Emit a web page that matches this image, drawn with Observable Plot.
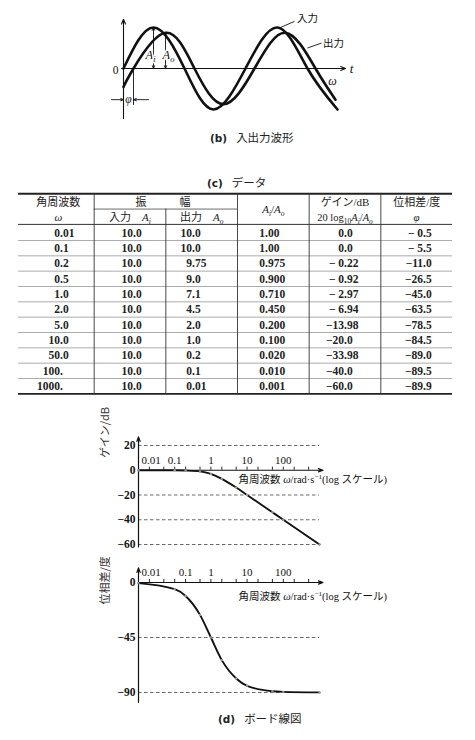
<!DOCTYPE html>
<html><head><meta charset="utf-8">
<script src="https://cdn.jsdelivr.net/npm/d3@7"></script>
<script src="https://cdn.jsdelivr.net/npm/@observablehq/plot@0.6"></script>
<style>
body{margin:0;background:#fff;}
#page{position:relative;width:475px;height:740px;overflow:hidden;background:#fff;}
#page svg{position:absolute;left:0;}
.cap{position:absolute;font-family:'Noto Sans CJK JP',sans-serif;font-size:11.5px;color:#222;white-space:nowrap;line-height:12px;}
.cap b{font-family:'DejaVu Sans',sans-serif;font-weight:bold;font-size:10.5px;margin-right:9px;}
</style></head><body><div id="page"></div>
<script>
// ================= DATA =================
// (c) data table
const omega = [0.01, 0.1, 0.2, 0.5, 1, 2, 5, 10, 50, 100, 1000];
const omegaLabels = ["0.01","0.1","0.2","0.5","1.0","2.0","5.0","10.0","50.0","100.","1000."];
const inputAmpLabels = ["10.0","10.0","10.0","10.0","10.0","10.0","10.0","10.0","10.0","10.0","10.0"];
const outputAmpLabels = ["10.0","10.0","9.75","9.0","7.1","4.5","2.0","1.0","0.2","0.1","0.01"];
const ratioLabels = ["1.00","1.00","0.975","0.900","0.710","0.450","0.200","0.100","0.020","0.010","0.001"];
const gainDb = [0, 0, -0.22, -0.92, -2.97, -6.94, -13.98, -20.0, -33.98, -40.0, -60.0];
const gainLabels = ["0.0","0.0","− 0.22","− 0.92","− 2.97","− 6.94","−13.98","−20.0","−33.98","−40.0","−60.0"];
const phaseDeg = [-0.5, -5.5, -11.0, -26.5, -45.0, -63.5, -78.5, -84.5, -89.0, -89.5, -89.9];
const phaseLabels = ["− 0.5","− 5.5","−11.0","−26.5","−45.0","−63.5","−78.5","−84.5","−89.0","−89.5","−89.9"];
const headerTexts = ["角周波数","*ω*","振　　　幅","入力　*A*_{i}","出力　*A*_{o}","*A*_{i}/*A*_{o}","ゲイン/dB","20 log_{10}*A*_{i}/*A*_{o}","位相差/度","*φ*"];

// (d) Bode plot axes
const gainTicks = [20, 0, -20, -40, -60];
const gainTickLabels = ["20","0","−20","−40","−60"];
const gainGrid = [20, -20, -40, -60];
const phaseTicks = [0, -45, -90];
const phaseTickLabels = ["0","−45","−90"];
const phaseGrid = [-45, -90];
const freqTicks = [0.01, 0.1, 1, 10, 100];
const freqTickLabels = ["0.01","0.1","1","10","100"];
const freqMinorTicks = [0.01,0.02,0.05,0.1,0.2,0.5,1,2,5,10,20,50,100,200,500];
const freqAxisTitle = "角周波数 *ω*/rad·s^{−1}(log スケール)";
const gainAxisTitle = "ゲイン/dB";
const phaseAxisTitle = "位相差/度";

// (b) waveform sketch (zero crossings and extremes)
const inputWaveT = [0, 30, 61, 90, 122, 154, 184, 214];
const inputWaveV = [0, 1.0, 0, -1.0, 0, 1.0, 0, -1.0];
const outputWaveT = [0, 10, 42, 71, 100, 131, 162, 192, 212];
const outputWaveV = [-0.45, 0, 0.87, 0, -0.87, 0, 0.87, 0, -0.76];
const waveLabels = ["入力","出力"];

// captions
const captions = [["(b)","入出力波形"],["(c)","データ"],["(d)","ボード線図"]];

// ================= HELPERS =================
const SERIF = "'Liberation Serif','Noto Sans CJK JP',serif";
const page = document.getElementById("page");
function place(svg, top){ svg.style.top = top + "px"; page.appendChild(svg); richify(svg); }
function richify(root){
  root.querySelectorAll("text").forEach(t => {
    const s = t.textContent;
    if (!/_\{|\^\{|\*/.test(s)) return;
    const fs = parseFloat(getComputedStyle(t).fontSize) || 12;
    while (t.firstChild) t.removeChild(t.firstChild);
    const re = /_\{([^}]*)\}|\^\{([^}]*)\}|\*([^*]*)\*|([^_^*]+|[_^*])/g;
    let m, cur = 0;
    while ((m = re.exec(s))) {
      const ts = document.createElementNS("http://www.w3.org/2000/svg","tspan");
      let target = 0, txt;
      if (m[1] !== undefined) { txt = m[1]; target = 0.28*fs; ts.setAttribute("font-size", 0.68*fs); if (/^[a-z]$/.test(txt)) ts.setAttribute("font-style","italic"); }
      else if (m[2] !== undefined) { txt = m[2]; target = -0.38*fs; ts.setAttribute("font-size", 0.68*fs); }
      else if (m[3] !== undefined) { txt = m[3]; ts.setAttribute("font-style","italic"); }
      else txt = m[4];
      if (target !== cur) { ts.setAttribute("dy", target - cur); cur = target; }
      ts.textContent = txt;
      t.appendChild(ts);
    }
  });
}
const baseStyle = {fontFamily: SERIF, fontSize: "11px", background: "transparent", overflow: "visible", color: "#111"};

// ================= (b) WAVEFORM =================
const inputWave = inputWaveT.map((t,i) => ({t, v: inputWaveV[i]}));
const outputWave = outputWaveT.map((t,i) => ({t, v: outputWaveV[i]}));
const waveSvg = Plot.plot({
  width: 475, height: 150, marginLeft: 123, marginRight: 135, marginTop: 27, marginBottom: 41,
  x: {domain: [0, 217], axis: null}, y: {domain: [-1, 1], axis: null},
  style: baseStyle,
  marks: [
    Plot.arrow([0], {x1: -2, y1: 0, x2: 222, y2: 0, headLength: 7, headAngle: 45, strokeWidth: 1.1, stroke: "#111"}),
    Plot.arrow([0], {x1: 0, y1: -1.22, x2: 0, y2: 1.2, headLength: 7, headAngle: 45, strokeWidth: 1.1, stroke: "#111"}),
    Plot.line(inputWave, {x: "t", y: "v", curve: "natural", strokeWidth: 2.6, stroke: "#111"}),
    Plot.line(outputWave, {x: "t", y: "v", curve: "natural", strokeWidth: 2.6, stroke: "#111"}),
    // amplitude arrows at the peaks
    Plot.arrow([{t:30,a:0.5,b:1.0},{t:30,a:0.5,b:0},{t:42,a:0.44,b:0.87},{t:42,a:0.44,b:0}],
      {x1: "t", x2: "t", y1: "a", y2: "b", headLength: 5, headAngle: 45, strokeWidth: 0.9, stroke: "#111"}),
    Plot.text(["*A*_{i}","*A*_{o}"], {x: [27, 45], y: [0.33, 0.33], fontSize: 12.5, stroke: "white", strokeWidth: 3, paintOrder: "stroke", fill: "#111"}),
    // phase lag marker
    Plot.ruleX([10], {y1: 0, y2: -0.9, strokeWidth: 0.9, stroke: "#111"}),
    Plot.arrow([{a:-12,b:0},{a:25,b:10}], {x1: "a", x2: "b", y1: -0.76, y2: -0.76, headLength: 5, headAngle: 45, strokeWidth: 0.9, stroke: "#111"}),
    Plot.text(["*φ*"], {x: 5, y: -0.76, fontSize: 11.5, fill: "#111"}),
    Plot.text(["0"], {x: -8, y: -0.04, fontSize: 11.5, fill: "#111"}),
    Plot.text(["*t*"], {x: 228, y: -0.02, fontSize: 13, fill: "#111"}),
    Plot.text(["*ω*"], {x: 209, y: -0.3, fontSize: 12, fill: "#111"}),
    // curve labels and leaders
    Plot.text(waveLabels, {x: [184, 210], y: [1.22, 0.61], fontSize: 10.5, fontFamily: "'Noto Sans CJK JP',sans-serif", fill: "#111"}),
    Plot.link([{a:171,b:1.15,c:157,d:1.0},{a:198,b:0.62,c:184,d:0.5}], {x1: "a", y1: "b", x2: "c", y2: "d", strokeWidth: 0.9, stroke: "#111"})
  ]
});
place(waveSvg, 0);

// ================= (c) TABLE =================
const colLeft = 22, colRight = 452, colW = (colRight - colLeft) / 6;
const decimalPx = [61, 134, 193, 266, 345, 424];
const digitW = 5.75, dotHalf = 1.45;
const columns = [omegaLabels, inputAmpLabels, outputAmpLabels, ratioLabels, gainLabels, phaseLabels];
const cells = [];
columns.forEach((col, c) => col.forEach((s, r) => {
  const dot = s.indexOf(".");
  const frac = s.length - dot - 1;
  cells.push({r, s, x: (decimalPx[c] + dotHalf + frac * digitW - colLeft) / colW});
}));
const headerPos = [[0.5,-2],[0.5,-1],[1.96,-2],[1.5,-1],[2.5,-1],[3.5,-1.5],[4.5,-2],[4.5,-1],[5.5,-2],[5.5,-1]];
const headerCells = headerTexts.map((s,i) => ({s, x: headerPos[i][0], r: headerPos[i][1]}));
const tableSvg = Plot.plot({
  width: 475, height: 232, marginLeft: 0, marginRight: 0, marginTop: 0, marginBottom: 0,
  x: {domain: [0, 6], range: [colLeft, colRight], axis: null},
  y: {domain: [-4, 11], range: [1, 231], axis: null},
  style: baseStyle,
  marks: [
    Plot.ruleY([-2.55, 10.5], {x1: -0.055, x2: 6, strokeWidth: 1.8, stroke: "#222"}),
    Plot.ruleY([-0.55], {x1: -0.055, x2: 6, strokeWidth: 1, stroke: "#333"}),
    Plot.ruleY([-1.55], {x1: 1, x2: 3, strokeWidth: 0.8, stroke: "#444"}),
    Plot.ruleY(omega.slice(0, 10).map((d, i) => i + 0.5), {x1: -0.055, x2: 6, strokeWidth: 0.7, stroke: "#888"}),
    Plot.ruleX([1, 3, 4, 5], {y1: -2.55, y2: 10.5, strokeWidth: 0.9, stroke: "#333"}),
    Plot.ruleX([2], {y1: -1.55, y2: 10.5, strokeWidth: 0.9, stroke: "#333"}),
    Plot.text(cells, {x: "x", y: "r", text: "s", textAnchor: "end", fontSize: 11.5, fontWeight: "bold", fill: "#222"}),
    Plot.text(headerCells, {x: "x", y: "r", text: "s", fontSize: 11, fill: "#222"})
  ]
});
place(tableSvg, 170);
// adjust the long log header a bit smaller
tableSvg.querySelectorAll("text").forEach(t => { if (t.textContent.startsWith("20 log")) t.setAttribute("font-size", "10.5"); });

// ================= (d) BODE PLOTS =================
const bode = omega.map((w, i) => ({w, g: gainDb[i], p: phaseDeg[i]}));
function bodePlot({height, marginTop, marginBottom, yDomain, yKey, ticks, tickLabels, grid, gridEnd, axisLo, axisHi, title, titleY, titleYPos, zeroLabelShift}) {
  return Plot.plot({
    width: 475, height, marginLeft: 138, marginRight: 156, marginTop, marginBottom,
    x: {type: "log", domain: [0.01, 1000], axis: null},
    y: {domain: yDomain, axis: null},
    style: baseStyle,
    marks: [
      Plot.ruleY(grid, {x1: 0.01, x2: gridEnd, strokeDasharray: "3.5,2.5", strokeWidth: 0.8, stroke: "#444"}),
      Plot.arrow([0], {x1: 0.01, y1: axisLo, x2: 0.01, y2: axisHi, headLength: 6, headAngle: 40, strokeWidth: 1.2, stroke: "#111"}),
      Plot.arrow([0], {x1: 0.01, y1: 0, x2: 1250, y2: 0, headLength: 6, headAngle: 40, strokeWidth: 1.2, stroke: "#111"}),
      Plot.ruleX(freqMinorTicks, {y1: 0, y2: 2.5, strokeWidth: 0.9, stroke: "#111"}),
      Plot.text(freqTicks.slice(0,1), {x: d => d, y: 8.3, text: (d,i) => freqTickLabels[i], textAnchor: "start", dx: 3, fontSize: 11, fill: "#111"}),
      Plot.text(freqTicks.slice(1,2), {x: d => d, y: 8.3, text: (d,i) => freqTickLabels[i+1], dx: zeroLabelShift, fontSize: 11, fill: "#111"}),
      Plot.text(freqTicks.slice(2), {x: d => d, y: 8.3, text: (d,i) => freqTickLabels[i+2], fontSize: 11, fill: "#111"}),
      Plot.text(ticks, {y: d => d, text: (d,i) => tickLabels[i], frameAnchor: "left", textAnchor: "end", dx: -3, fontSize: 11.5, fontWeight: "bold", fill: "#111"}),
      Plot.line(bode, {x: "w", y: yKey, curve: "monotone-x", strokeWidth: 1.9, stroke: "#111"}),
      Plot.dot(bode, {x: "w", y: yKey, r: 1.2, fill: "#999"}),
      Plot.text([freqAxisTitle], {y: titleYPos, frameAnchor: "left", textAnchor: "start", dx: 100, fontSize: 10.5, fill: "#111"}),
      Plot.text([title], {y: titleY, frameAnchor: "left", dx: -33, rotate: -90, fontSize: 11, fontFamily: "'Noto Sans CJK JP',sans-serif", fill: "#333"})
    ]
  });
}
const gainSvg = bodePlot({height: 130, marginTop: 20, marginBottom: 11, yDomain: [-60, 20], yKey: "g",
  ticks: gainTicks, tickLabels: gainTickLabels, grid: gainGrid, gridEnd: 1000, axisLo: -62, axisHi: 27,
  title: gainAxisTitle, titleY: 9.8, titleYPos: -7.6, zeroLabelShift: 0});
place(gainSvg, 425);
const phaseSvg = bodePlot({height: 150, marginTop: 22, marginBottom: 18, yDomain: [-90, 0], yKey: "p",
  ticks: phaseTicks, tickLabels: phaseTickLabels, grid: phaseGrid, gridEnd: 1000, axisLo: -98, axisHi: 12,
  title: phaseAxisTitle, titleY: -18, titleYPos: -11.5, zeroLabelShift: 11});
place(phaseSvg, 560);

// ================= CAPTIONS =================
const capPos = [[210, 131], [207, 176], [218, 712]];
captions.forEach(([a, b], i) => {
  const d = document.createElement("div");
  d.className = "cap";
  d.style.left = capPos[i][0] + "px"; d.style.top = capPos[i][1] + "px";
  const bEl = document.createElement("b"); bEl.textContent = a;
  d.appendChild(bEl); d.appendChild(document.createTextNode(b));
  page.appendChild(d);
});
</script></body></html>
